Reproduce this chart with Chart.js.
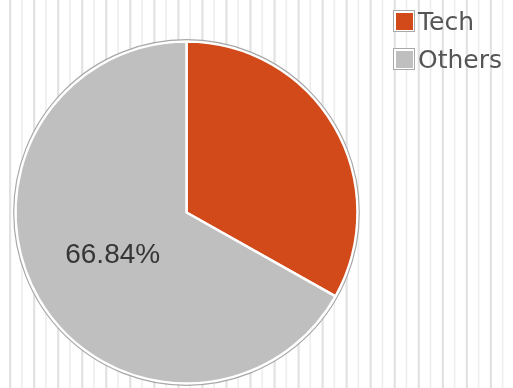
<!DOCTYPE html>
<html>
<head>
<meta charset="utf-8">
<script src="https://cdn.jsdelivr.net/npm/chart.js@4"></script>
<style>
  html, body { margin: 0; padding: 0; background: #fff; }
  #wrap { position: relative; width: 513px; height: 388px; }
  #legend { position: absolute; left: 393px; top: 2px; font-family: "DejaVu Sans", sans-serif; font-size: 25px; color: #555555; }
  .row { display: flex; align-items: center; height: 38px; }
  .box { width: 17px; height: 17px; border: 1.5px solid #a9a9a9; padding: 1.5px; background: #fff; margin-right: 3px; }
  .box span { display: block; width: 100%; height: 100%; }
</style>
</head>
<body>
<div id="wrap">
  <canvas id="pie" width="513" height="388"></canvas>
  <div id="legend"></div>
</div>
<script>
"use strict";

// Dados
const categories = ["Tech", "Others"];
const shares = [33.16, 66.84];
const sliceColors = ["#D2491A", "#BFBFBF"];
const showLabel = [false, true];

// Fundo listrado (linhas verticais)
const stripes = {
    id: "stripes",
    beforeDraw(chart) {
        const { ctx, width, height } = chart;
        ctx.save();
        for (let i = 0; 10 + i * 12.02 < width; i++) {
            const x = 10 + i * 12.02;
            ctx.fillStyle = i % 2 === 0 ? "#e2e2e2" : "#eeeeee";
            ctx.fillRect(x - 1, 0, i % 2 === 0 ? 2.2 : 1.6, height);
        }
        ctx.restore();
    }
};

// Contorno cinza e rótulo de porcentagem
const pieExtras = {
    id: "pieExtras",
    afterDatasetsDraw(chart) {
        const { ctx } = chart;
        const arcs = chart.getDatasetMeta(0).data;
        if (!arcs.length) return;
        const a = arcs[0];
        ctx.save();
        ctx.beginPath();
        ctx.arc(a.x, a.y, a.outerRadius + 1.8, 0, Math.PI * 2);
        ctx.strokeStyle = "#a8a8a8";
        ctx.lineWidth = 1.2;
        ctx.stroke();

        ctx.font = "28px 'Liberation Sans', Arial, sans-serif";
        ctx.fillStyle = "#363636";
        ctx.textAlign = "center";
        ctx.textBaseline = "middle";
        arcs.forEach((arc, i) => {
            if (!showLabel[i]) return;
            const p = arc.tooltipPosition();
            ctx.fillText(shares[i].toFixed(2) + "%", p.x, p.y);
        });
        ctx.restore();
    }
};

const chart = new Chart(document.getElementById("pie").getContext("2d"), {
    type: "pie",
    data: {
        labels: categories,
        datasets: [{
            data: shares,
            backgroundColor: sliceColors,
            borderColor: "#ffffff",
            borderWidth: 2.5
        }]
    },
    options: {
        responsive: false,
        animation: false,
        radius: 171,
        layout: { padding: { left: 0, right: 140, top: 37, bottom: 0 } },
        plugins: {
            legend: { display: false },
            tooltip: { enabled: false }
        }
    },
    plugins: [stripes, pieExtras]
});

// Legenda em HTML
const legend = document.getElementById("legend");
categories.forEach((name, i) => {
    const row = document.createElement("div");
    row.className = "row";
    const box = document.createElement("div");
    box.className = "box";
    const fill = document.createElement("span");
    fill.style.background = sliceColors[i];
    box.appendChild(fill);
    const txt = document.createElement("span");
    txt.textContent = name;
    row.appendChild(box);
    row.appendChild(txt);
    legend.appendChild(row);
});
</script>
</body>
</html>
